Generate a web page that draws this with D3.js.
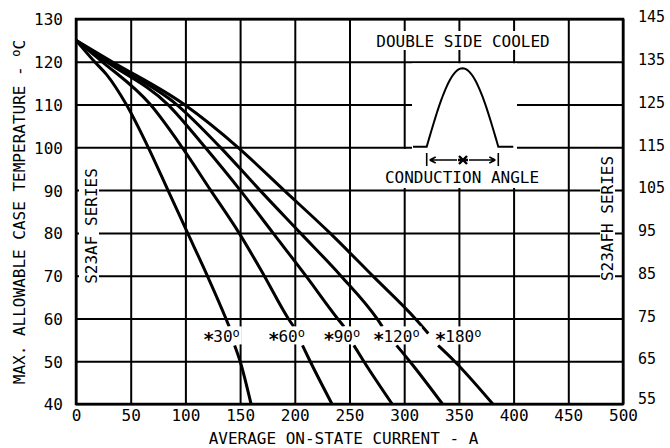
<!DOCTYPE html>
<html>
<head>
<meta charset="utf-8">
<script src="https://cdn.jsdelivr.net/npm/d3@7/dist/d3.min.js"></script>
<style>
  body { margin: 0; background: #fff; }
  svg { display: block; }
  text { font-family: "DejaVu Sans Mono", monospace; font-size: 16px; fill: #000; }
</style>
</head>
<body>
<svg width="670" height="448"></svg>
<script>
/* Case temperature vs average on-state current */

// ticks
var xTicks = [0, 50, 100, 150, 200, 250, 300, 350, 400, 450, 500];
var yTicks = [40, 50, 60, 70, 80, 90, 100, 110, 120, 130];
var yRightTicks = [55, 65, 75, 85, 95, 105, 115, 125, 135, 145];

// curves: [current A, case temp C], null = gap under the label
var curve30 = [[0, 125], [17, 120], [28, 117], [46, 110], [66, 100], [84, 90], [102, 80], [120, 70], [137, 60], [140, 58.1], null, [145, 53.7], [150, 50], [160, 40]];
var curve60 = [[0, 125], [24, 120], [68, 110], [97, 100], [123, 90], [149, 80], [172, 70], [194, 60], [199, 58.1], null, [207, 53.7], [214, 50], [234, 40]];
var curve90 = [[0, 125], [28, 120], [84, 110], [118, 100], [150, 90], [180, 80], [210, 70], [239, 60], [245, 58.1], null, [254, 53.7], [263, 50], [289, 40]];
var curve120 = [[0, 125], [30, 120], [92, 110], [132, 100], [168, 90], [205, 80], [242, 70], [275, 60], [280, 58.1], null, [293, 53.7], [305, 50], [335, 40]];
var curve180 = [[0, 125], [33, 120], [99, 110], [148, 100], [190, 90], [232, 80], [271, 70], [310, 60], [322, 56.5], null, [331, 53.7], [346, 50], [381, 40]];

var curves = [curve30, curve60, curve90, curve120, curve180];
var angleNames = ["30", "60", "90", "120", "180"];
var angleLabelAt = [116, 175.5, 226, 271.5, 328]; // current where each label starts
var ANGLE_LABEL_TEMP = 54.4;

// layout
var LEFT = 76, RIGHT = 623, TOP = 19, BOTTOM = 404;
var GRID_W = 2;
var CURVE_W = 3;

var svg = d3.select("svg");

var x = d3.scaleLinear().domain([0, 500]).range([LEFT, RIGHT]);
var y = d3.scaleLinear().domain([40, 130]).range([BOTTOM, TOP]);
var yRight = d3.scaleLinear().domain([55, 145]).range([BOTTOM, TOP]);

// x axis with vertical grid
var gx = svg.append("g")
    .attr("transform", "translate(0," + BOTTOM + ")")
    .call(d3.axisBottom(x).tickValues(xTicks).tickSize(-(BOTTOM - TOP)).tickPadding(6));
gx.select(".domain").remove();
gx.attr("font-size", 16).attr("font-family", null);
gx.selectAll("line").attr("stroke", "#000").attr("stroke-width", GRID_W);

// left axis with horizontal grid
var gy = svg.append("g")
    .attr("transform", "translate(" + LEFT + ",0)")
    .call(d3.axisLeft(y).tickValues(yTicks).tickSize(-(RIGHT - LEFT)).tickPadding(13));
gy.select(".domain").remove();
gy.attr("font-size", 16).attr("font-family", null);
gy.selectAll("line").attr("stroke", "#000").attr("stroke-width", GRID_W);
gy.selectAll("text").attr("dy", "0.37em");

// right axis, labels only
var gr = svg.append("g")
    .attr("transform", "translate(" + RIGHT + ",0)")
    .call(d3.axisRight(yRight).tickValues(yRightTicks).tickSize(0).tickPadding(15));
gr.select(".domain").remove();
gr.attr("font-size", 16).attr("font-family", null);
gr.selectAll("text")
    .attr("dy", function(d) { return d == 55 ? "-0.05em" : "0.18em"; })
    .style("font-size", "15px");

// frame
svg.append("rect")
    .attr("x", LEFT).attr("y", TOP)
    .attr("width", RIGHT - LEFT).attr("height", BOTTOM - TOP)
    .attr("fill", "none").attr("stroke", "#000").attr("stroke-width", 2.5);

// white patches that cut the grid
function patch(x0, y0, w, h) {
    svg.append("rect").attr("x", x0).attr("y", y0).attr("width", w).attr("height", h).attr("fill", "#fff");
}
patch(372, 31, 183, 19);      // DOUBLE SIDE COOLED
patch(412, 63.3, 105, 86);    // pulse
patch(380, 149, 165, 39);     // conduction angle
patch(79, 163, 20, 127);      // S23AF SERIES
patch(600, 152, 15, 133);     // S23AFH SERIES

// curves
var line = d3.line()
    .defined(function(d) { return d !== null; })
    .x(function(d) { return x(d[0]); })
    .y(function(d) { return y(d[1]); })
    .curve(d3.curveMonotoneX);

svg.append("g")
    .selectAll("path")
    .data(curves)
    .enter()
    .append("path")
    .attr("d", line)
    .attr("fill", "none")
    .attr("stroke", "#000")
    .attr("stroke-width", CURVE_W)
    .attr("stroke-linejoin", "round");

// angle labels, with a white box behind
var labels = svg.append("g");
angleNames.forEach(function(name, i) {
    var t = labels.append("text")
        .attr("x", x(angleLabelAt[i]))
        .attr("y", y(ANGLE_LABEL_TEMP));
    t.append("tspan").style("font-weight", "bold").style("font-size", "19px").text("\u2217");
    t.append("tspan").attr("dx", -1).text(name);
    t.append("tspan").attr("dy", -5).style("font-size", "12px").text("o");
    var b = t.node().getBBox();
    labels.insert("rect", "text")
        .attr("x", b.x - 2).attr("y", b.y + 2)
        .attr("width", b.width + 4).attr("height", b.height - 4)
        .attr("fill", "#fff");
});

// axis titles
svg.append("text")
    .attr("x", (LEFT + RIGHT) / 2 - 6)
    .attr("y", 444)
    .attr("text-anchor", "middle")
    .text("AVERAGE ON-STATE CURRENT - A");

var yt = svg.append("text")
    .attr("transform", "translate(25,212) rotate(-90)")
    .attr("text-anchor", "middle");
yt.append("tspan").text("MAX. ALLOWABLE CASE TEMPERATURE - ");
yt.append("tspan").attr("dy", -5).style("font-size", "12px").text("o");
yt.append("tspan").attr("dy", 5).text("C");

// series names
svg.append("text")
    .attr("transform", "translate(97,226) rotate(-90)")
    .attr("text-anchor", "middle")
    .text("S23AF SERIES");
svg.append("text")
    .attr("transform", "translate(613,218.5) rotate(-90)")
    .attr("text-anchor", "middle")
    .text("S23AFH SERIES");

// inset: conduction angle sketch
var inset = svg.append("g");
inset.append("text")
    .attr("x", 463).attr("y", 46.5)
    .attr("text-anchor", "middle")
    .text("DOUBLE SIDE COOLED");
inset.append("text")
    .attr("x", 462).attr("y", 183)
    .attr("text-anchor", "middle")
    .text("CONDUCTION ANGLE");

var P0 = 426.7, P1 = 498.3, BASE = 146.7, PEAK = 68.3;
var pulse = d3.line()
    .x(function(t) { return P0 + t * (P1 - P0); })
    .y(function(t) { return BASE - (BASE - PEAK) * Math.sin(Math.PI * t); });
inset.append("path")
    .attr("d", "M413," + BASE + "H" + P0 + pulse(d3.range(0, 1.0001, 0.02)).replace("M", "L") + "H513.3")
    .attr("fill", "none")
    .attr("stroke", "#000")
    .attr("stroke-width", 2);

// |<--*-->|
var AY = 160, MX = 463;
inset.append("path")
    .attr("d", "M" + P0 + "," + (AY - 7) + "V" + (AY + 6) +
               "M" + P1 + "," + (AY - 7) + "V" + (AY + 6) +
               "M" + (P0 + 3) + "," + AY + "H457" +
               "M" + (P0 + 3) + "," + AY + "l6,-3M" + (P0 + 3) + "," + AY + "l6,3" +
               "M469," + AY + "H" + (P1 - 3) +
               "M" + (P1 - 3) + "," + AY + "l-6,-3M" + (P1 - 3) + "," + AY + "l-6,3")
    .attr("fill", "none")
    .attr("stroke", "#000")
    .attr("stroke-width", 1.6);
// star marker
inset.append("path")
    .attr("d", "M" + (MX - 4) + "," + (AY - 4) + "L" + (MX + 4) + "," + (AY + 4) +
               "M" + (MX + 4) + "," + (AY - 4) + "L" + (MX - 4) + "," + (AY + 4) +
               "M" + (MX - 5) + "," + AY + "H" + (MX + 5))
    .attr("fill", "none")
    .attr("stroke", "#000")
    .attr("stroke-width", 2.4);
</script>
</body>
</html>
